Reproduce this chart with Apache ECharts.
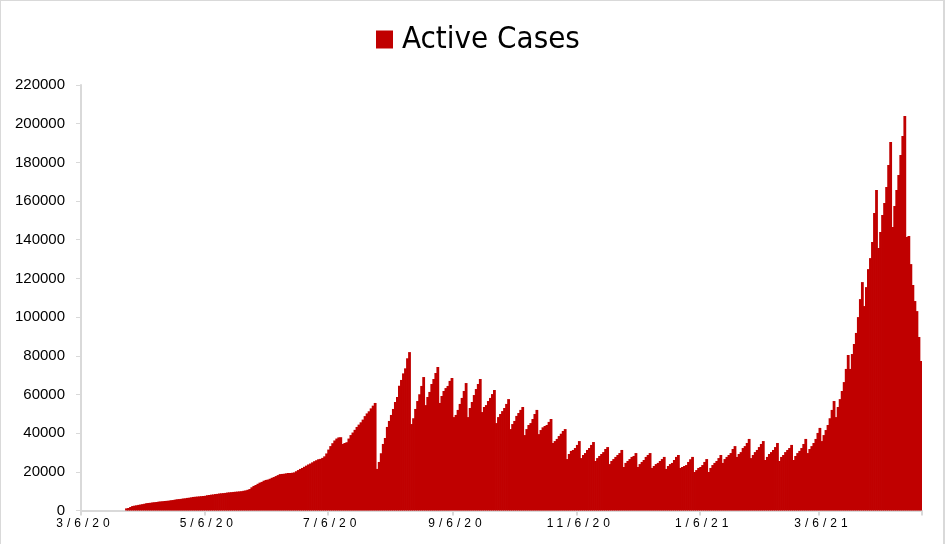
<!DOCTYPE html>
<html>
<head>
<meta charset="utf-8">
<script src="https://cdn.jsdelivr.net/npm/echarts@6/dist/echarts.min.js"></script>
<style>
  html, body { margin: 0; padding: 0; background: #fff; }
  #wrap { position: relative; width: 945px; height: 544px; box-sizing: border-box;
          border-left: 1px solid #d9d9d9; border-top: 1px solid #d9d9d9; border-right: 2px solid #d9d9d9; }
  #chart { position: absolute; left: -1px; top: -1px; width: 945px; height: 544px; }
</style>
</head>
<body>
<div id="wrap"><div id="chart"></div></div>
<script>
// ---- data ----
const startDate = [2020, 3, 6];           // first category: 3/6/20
const dayCount = 416;                      // 3/6/20 .. 4/25/21
const tickLabels = ['3/6/20', '5/6/20', '7/6/20', '9/6/20', '11/6/20', '1/6/21', '3/6/21'];
const seriesName = 'Active Cases';

const activeMar_Apr2020 = [
  0,0,0,0,0,0,0,0,0,0,0,0,0,0,0,0,0,0,0,0,0,0,
  1100,1300,1800,2300,2500,2700,2900,3100,3300,3500,3800,3900,4000,4200,4300,4400,4600,4700,4800,4900,
  5000,5100,5300,5400,5600,5800,5900,6000,6200,6300,6500,6600,6800,7000,7100,7200,7300,7400,7500,7600
];
const activeMay_Jul2020 = [
  7900,8000,8200,8300,8500,8600,8800,8900,9000,9100,9300,9400,9500,9600,9700,9800,9900,10000,10200,10400,
  10700,11100,12000,12700,13200,13800,14400,14800,15400,15800,16000,16400,16900,17300,17800,18300,18800,18900,19000,19200,
  19400,19400,19500,19700,20300,20900,21500,22000,22600,23200,23800,24300,24900,25500,26000,26500,26700,27200,28000,29500,
  31500,33300,34800,36200,37200,37800,37900,34400,34900,35300,37200,39000,40300,41700,43200,44400,45600,47000,48800,50200,
  51300,52800,54200,55600
];
const activeAug_Oct2020 = [
  21500,25100,29600,34400,37500,43200,46300,49400,52500,56100,58700,64500,67500,70900,73500,78700,81900,
  44700,47700,52500,56600,60100,64400,69000,
  54500,58700,61300,65400,68000,71100,74200,
  55600,59200,61800,63300,64400,67000,68500,
  48300,49400,52000,55100,58200,61800,65900,
  48300,53000,56100,59700,62800,65400,68000,
  50900,53500,54500,56600,58200,60200,62300,
  45200,48300,49900,51400,53000,55100,57600,
  42100,44700,46300,48900,50400,52000,53500,
  39000,42100,44200,45200,47300,49900,52000,
  39500,41600,43000,43700,44200,45800,47300,
  34900,35900,37000,38500,39700,41100,42100
];
const activeNov2020_Jan2021 = [
  26600,29200,30800,31300,32300,33900,35900,
  27100,28700,29700,31300,32300,33900,35400,
  25600,27100,28200,29200,30200,31800,32800,
  24000,25600,26600,27700,28700,29700,31300,
  22500,24600,25600,26600,27700,28200,29700,
  22500,24000,25100,26100,27700,28700,29700,
  22000,23000,24000,24600,25600,26600,27700,
  21500,23000,24000,24600,26100,27700,28700,
  22000,22500,23000,23500,25100,26500,27700,
  19900,20900,22000,22500,23500,25100,26600,
  19900,22000,23500,24600,25600,27100,28700,
  24600,26600,27700,28700,29700,31800,33300,
  27700,29200,30200,32300,33300,34900,37000
];
const activeFeb_Apr2021 = [
  27100,28700,30200,31300,32800,34400,35900,
  26100,27700,29200,30200,31300,32800,34900,
  25600,27700,28700,30200,31300,32300,33900,
  26100,28200,29700,30800,32300,34400,37000,
  29700,31800,33300,34900,37000,40100,42700,
  35900,39000,41600,44200,47700,52000,56600,
  48300,53500,57600,61800,66400,73200,80400,
  73200,80900,86100,91800,100000,109300,118100,
  105700,115500,124800,130500,138800,153800,165700,
  135700,144000,152800,159000,167200,178600,190500,
  146600,157400,165700,173500,183800,193600,204000,
  141400,141900,127400,116600,108300,103100,89700,77300
];
const activeCases = [].concat(activeMar_Apr2020, activeMay_Jul2020, activeAug_Oct2020,
                              activeNov2020_Jan2021, activeFeb_Apr2021);

// category labels (M/D/YY)
const categories = [];
{
  const d0 = new Date(startDate[0], startDate[1] - 1, startDate[2], 12);
  for (let i = 0; i < dayCount; i++) {
    const d = new Date(d0.getTime() + i * 86400000);
    categories.push((d.getMonth() + 1) + '/' + d.getDate() + '/' + String(d.getFullYear()).slice(2));
  }
}

// letter-spaced date labels (as in the reference)
(function () {
  const proto = CanvasRenderingContext2D.prototype;
  if (!('letterSpacing' in proto)) return;
  const orig = proto.fillText;
  proto.fillText = function (t, x, y, w) {
    const prev = this.letterSpacing;
    const spaced = /^\d+\/\d+\/\d+$/.test(String(t));
    this.letterSpacing = spaced ? '4px' : '0px';
    const xx = spaced ? x + 3 : x;
    const r = w === undefined ? orig.call(this, t, xx, y) : orig.call(this, t, xx, y, w);
    this.letterSpacing = prev;
    return r;
  };
})();

const isTick = (idx, val) => tickLabels.indexOf(val) >= 0;

const chart = echarts.init(document.getElementById('chart'), null, { renderer: 'canvas' });
chart.setOption({
  animation: false,
  backgroundColor: 'transparent',
  legend: {
    data: [seriesName],
    left: 376, top: 24, padding: 0,
    icon: 'rect', itemWidth: 17, itemHeight: 18, itemGap: 10,
    textStyle: { fontFamily: "'DejaVu Sans Condensed', 'Liberation Sans Narrow', sans-serif",
                 fontSize: 31, color: '#000', padding: [0, 0, 0, 4] }
  },
  grid: { left: 81, right: 23, top: 85, bottom: 33.5, containLabel: false },
  xAxis: {
    type: 'category',
    data: categories,
    boundaryGap: true,
    axisLine: { show: true, lineStyle: { color: '#d9d9d9', width: 2 } },
    axisTick: { show: true, interval: isTick, alignWithLabel: false, length: 5,
                lineStyle: { color: '#d9d9d9', width: 2 } },
    axisLabel: { interval: isTick, margin: 7, color: '#000', fontSize: 12,
                 fontFamily: "'Liberation Sans', Arial, sans-serif" },
    splitLine: { show: false }
  },
  yAxis: {
    type: 'value',
    min: 0, max: 220000, interval: 20000,
    axisLine: { show: true, lineStyle: { color: '#d9d9d9', width: 2 } },
    axisTick: { show: true, length: 5, lineStyle: { color: '#d9d9d9', width: 1 } },
    axisLabel: { margin: 16, color: '#000', fontSize: 15,
                 fontFamily: "'Liberation Sans', Arial, sans-serif",
                 formatter: (v) => String(v) },
    splitLine: { show: false }
  },
  series: [{
    name: seriesName,
    type: 'bar',
    data: activeCases,
    barWidth: 2.8,
    itemStyle: { color: '#c00000' },
    emphasis: { disabled: true }
  }]
});
</script>
</body>
</html>
